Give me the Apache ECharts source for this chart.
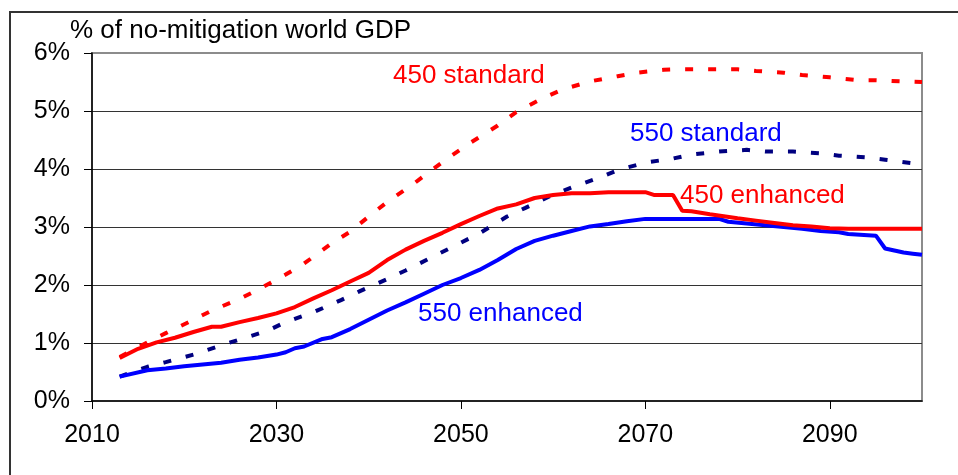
<!DOCTYPE html>
<html>
<head>
<meta charset="utf-8">
<script src="https://cdn.jsdelivr.net/npm/echarts@6/dist/echarts.min.js"></script>
<style>
html,body{margin:0;padding:0;background:#fff;}
#chart{width:958px;height:475px;}
</style>
</head>
<body>
<div id="chart"></div>
<script>
// ---- data ----
var xTickLabels = [2010, 2030, 2050, 2070, 2090];
var yTickLabels = ['0%', '1%', '2%', '3%', '4%', '5%', '6%'];

var years450std = [2013,2016,2018,2021,2023,2026,2028,2031,2033,2036,2038,2040,2042,2045,2047,2049,2051,2054,2056,2059,2061,2064,2067,2069,2072,2074,2077,2080,2082,2085,2087,2090,2093,2095,2098,2100];
var vals450std  = [0.76,1.01,1.17,1.40,1.56,1.76,1.92,2.18,2.37,2.72,2.92,3.18,3.43,3.76,4.00,4.23,4.45,4.75,4.98,5.23,5.37,5.51,5.60,5.66,5.71,5.72,5.72,5.72,5.69,5.66,5.62,5.58,5.53,5.53,5.51,5.50];

var years550std = [2013,2016,2018,2021,2024,2026,2029,2031,2034,2037,2039,2042,2044,2047,2050,2052,2055,2057,2060,2062,2065,2067,2070,2073,2075,2078,2081,2083,2086,2089,2091,2094,2096,2099,2100];
var vals550std  = [0.42,0.59,0.67,0.80,0.96,1.06,1.21,1.36,1.53,1.74,1.89,2.10,2.25,2.49,2.73,2.89,3.18,3.33,3.56,3.68,3.85,3.98,4.11,4.18,4.25,4.30,4.33,4.30,4.30,4.27,4.23,4.20,4.16,4.10,4.09];

var years450enh = [2013,2015,2017,2019,2021,2023,2024,2026,2028,2030,2032,2034,2036,2038,2040,2042,2044,2046,2048,2050,2052,2054,2056,2058,2060,2062,2064,2066,2070,2071,2073,2074,2075,2077,2080,2082,2084,2086,2088,2090,2092,2100];
var vals450enh  = [0.74,0.90,1.01,1.09,1.19,1.28,1.28,1.36,1.43,1.51,1.62,1.77,1.91,2.06,2.21,2.43,2.61,2.76,2.90,3.05,3.19,3.32,3.39,3.50,3.55,3.58,3.58,3.60,3.60,3.55,3.55,3.28,3.27,3.22,3.15,3.11,3.07,3.03,3.01,2.98,2.97,2.97];

var years550enh = [2013,2016,2018,2020,2022,2024,2026,2028,2030,2031,2032,2033,2035,2036,2038,2040,2042,2044,2046,2048,2050,2052,2054,2056,2058,2060,2062,2064,2066,2068,2070,2078,2079,2081,2083,2085,2087,2089,2091,2092,2095,2096,2098,2099,2100];
var vals550enh  = [0.42,0.53,0.56,0.60,0.63,0.66,0.71,0.75,0.80,0.84,0.91,0.94,1.07,1.10,1.24,1.40,1.56,1.70,1.85,2.00,2.12,2.26,2.43,2.62,2.76,2.85,2.93,3.01,3.05,3.10,3.14,3.14,3.09,3.06,3.03,3.00,2.97,2.93,2.91,2.88,2.85,2.63,2.56,2.54,2.52];

var seriesNames = ['450 standard', '550 standard', '450 enhanced', '550 enhanced'];
var titleText = '% of no-mitigation world GDP';

function pairs(xs, ys) { return xs.map(function (x, i) { return [x, ys[i]]; }); }

var FONT = '"Liberation Sans", Arial, sans-serif';
var chart = echarts.init(document.getElementById('chart'), null, {renderer: 'canvas'});

chart.setOption({
  animation: false,
  backgroundColor: '#fff',
  grid: {left: 92, top: 53, right: 36, bottom: 74, show: true, borderColor: '#8c8c8c', borderWidth: 2, backgroundColor: 'transparent'},
  xAxis: {
    type: 'value', min: 2010, max: 2100, interval: 20,
    axisLine: {show: true, lineStyle: {color: '#000', width: 1.5}},
    axisTick: {show: true, length: 8, lineStyle: {color: '#000', width: 1}, customValues: xTickLabels},
    axisLabel: {show: true, margin: 22, fontSize: 25, color: '#000', fontFamily: FONT, customValues: xTickLabels,
      formatter: function (v) { return String(v); }},
    splitLine: {show: false}
  },
  yAxis: {
    type: 'value', min: 0, max: 6, interval: 1,
    axisLine: {show: true, lineStyle: {color: '#000', width: 1.5}},
    axisTick: {show: true, length: 8, lineStyle: {color: '#000', width: 1}},
    axisLabel: {show: true, margin: 22, fontSize: 25, color: '#000', fontFamily: FONT,
      formatter: function (v) { return yTickLabels[Math.round(v)]; }},
    splitLine: {show: true, showMinLine: false, showMaxLine: false, lineStyle: {color: '#333', width: 1}}
  },
  series: [
    {name: seriesNames[0], type: 'line', data: pairs(years450std, vals450std), showSymbol: false, z: 3,
      lineStyle: {color: '#ff0000', width: 4, type: [8, 15]}},
    {name: seriesNames[1], type: 'line', data: pairs(years550std, vals550std), showSymbol: false, z: 3,
      lineStyle: {color: '#000080', width: 4, type: [8, 15]}},
    {name: seriesNames[3], type: 'line', data: pairs(years550enh, vals550enh), showSymbol: false, z: 3,
      lineStyle: {color: '#0000ff', width: 4}},
    {name: seriesNames[2], type: 'line', data: pairs(years450enh, vals450enh), showSymbol: false, z: 4,
      lineStyle: {color: '#ff0000', width: 4}}
  ],
  graphic: [
    {type: 'rect', shape: {x: 10, y: 12, width: 980, height: 500}, style: {fill: 'none', stroke: '#333', lineWidth: 2}, silent: true, z: 0},
    {type: 'text', x: 70, y: 31, style: {text: titleText, fill: '#000', font: '26px ' + FONT, verticalAlign: 'middle'}},
    {type: 'text', x: 393, y: 76, style: {text: seriesNames[0], fill: '#ff0000', font: '26px ' + FONT, verticalAlign: 'middle'}},
    {type: 'text', x: 630, y: 134, style: {text: seriesNames[1], fill: '#0000ff', font: '26px ' + FONT, verticalAlign: 'middle'}},
    {type: 'text', x: 680, y: 196, style: {text: seriesNames[2], fill: '#ff0000', font: '26px ' + FONT, verticalAlign: 'middle'}},
    {type: 'text', x: 418, y: 314, style: {text: seriesNames[3], fill: '#0000ff', font: '26px ' + FONT, verticalAlign: 'middle'}}
  ]
});
</script>
</body>
</html>
